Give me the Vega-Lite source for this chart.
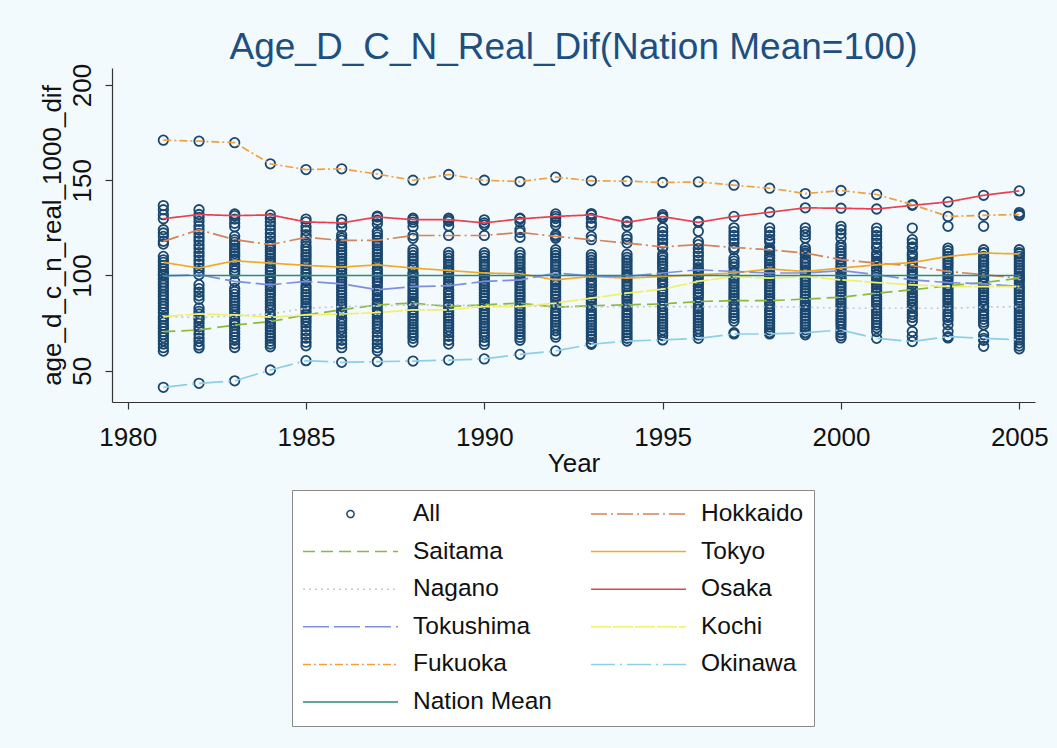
{
 "$schema": "https://vega.github.io/schema/vega-lite/v6.json",
 "width": 923,
 "height": 334,
 "autosize": {"type": "none"},
 "padding": {"left": 112, "top": 68, "right": 22, "bottom": 346},
 "background": "#f3fafd",
 "title": {"text": "Age_D_C_N_Real_Dif(Nation Mean=100)", "fontSize": 37, "font": "Liberation Sans", "fontWeight": "normal", "color": "#1f4e80", "anchor": "middle", "frame": "group", "baseline": "alphabetic", "offset": 10, "dy": 43},
 "config": {
  "view": {"stroke": null, "fill": "#f3fafd"},
  "axis": {"domainColor": "#333", "tickColor": "#333", "domainWidth": 1.2, "tickWidth": 1.2, "tickSize": 7, "labelFont": "Liberation Sans", "labelFontSize": 26, "labelColor": "#111", "titleFont": "Liberation Sans", "titleFontSize": 26, "titleFontWeight": "normal", "titleColor": "#111", "grid": false},
  "legend": {
   "orient": "none", "legendX": 180, "legendY": 422, "columns": 2, "direction": "horizontal",
   "symbolSize": 9025, "symbolStrokeWidth": 1.5,
   "labelFont": "Liberation Sans", "labelFontSize": 24.5, "labelColor": "#111", "labelOffset": 14, "labelLimit": 300,
   "rowPadding": 9.6, "columnPadding": 38, "padding": 10, "clipHeight": 28, "gridAlign": "all",
   "fillColor": "#ffffff", "strokeColor": "#8a8a8a"
  }
 },
 "datasets": {
  "pts": [
   {"series": "All", "year": 1981, "v": [171, 136.7, 134.5, 131.9, 129.8, 124, 122.3, 120.5, 117.9, 116.5, 110, 108.2, 106.9, 105.3, 103.6, 102, 100.6, 99.8, 98.2, 96.5, 95, 93.4, 91.8, 90.1, 88.7, 87.1, 85.4, 83.9, 82.3, 80.6, 78.4, 77.1, 75.4, 73.8, 72.3, 70.5, 69, 67.4, 65.8, 64, 62.1, 60.3, 41.3]},
   {"series": "All", "year": 1982, "v": [170.5, 134.5, 132, 130.5, 128.4, 126, 124, 122.1, 120, 118.1, 116, 114.2, 112, 110.1, 108, 106.1, 103.9, 102.2, 100.4, 95.2, 93.1, 91.2, 89.3, 87.5, 83, 81.2, 79.8, 78, 76.9, 75, 73.1, 71.4, 69.2, 67.1, 65.3, 63.4, 62, 43.4]},
   {"series": "All", "year": 1983, "v": [169.7, 132.3, 131.4, 129.6, 127.4, 125.6, 120.6, 118.8, 117.5, 116, 114.4, 113, 111.5, 110.1, 108.5, 107.7, 105.6, 104, 102.5, 101, 96.9, 93.2, 91.6, 90.1, 88.4, 87, 85.5, 84.1, 82.4, 80.9, 79.3, 78.8, 76.6, 75.1, 74, 72.3, 70.6, 69.1, 67.5, 66, 64.1, 62.2, 44.7]},
   {"series": "All", "year": 1984, "v": [158.6, 131.8, 130, 128.1, 126.2, 124.1, 122, 120.1, 118.2, 116.2, 115, 113.5, 112.1, 110.5, 109, 107.6, 106.5, 104.5, 103, 101.6, 100.1, 98.6, 97.1, 95.1, 94, 92.5, 91.1, 89.6, 88, 86.5, 85.1, 83.5, 82.1, 79.8, 78.1, 77.5, 75.8, 74.5, 73, 71.6, 70, 68.5, 67.1, 65.5, 64, 62.6, 50.4]},
   {"series": "All", "year": 1985, "v": [155.6, 129.6, 128.1, 125.6, 123.5, 121.4, 120, 117.6, 115.5, 114.1, 112.6, 111, 109.6, 108, 106.6, 105.3, 103.5, 102, 100.6, 99, 97.6, 96.9, 94.5, 93.1, 91.5, 90, 88.6, 87.1, 85.5, 84, 82.8, 81.1, 79.3, 78.1, 76.5, 75, 73.1, 71, 69, 67.1, 65, 63.1, 55.3]},
   {"series": "All", "year": 1986, "v": [156, 129.5, 127.6, 125.2, 121.1, 119.6, 118.4, 116.5, 115.1, 113.5, 112, 110.6, 109, 107.5, 106.1, 104.4, 103, 101.5, 100.1, 98.6, 97, 95.6, 94.1, 92.6, 91, 89.6, 88, 86.6, 85.1, 83.7, 82, 80.6, 79.8, 77.6, 76.1, 74.5, 73, 71.6, 70, 68.1, 66, 64.1, 62.1, 54.4]},
   {"series": "All", "year": 1987, "v": [153.2, 131.2, 130.7, 129, 127.1, 123.1, 121.5, 120.1, 118.4, 117, 115.6, 114, 112.5, 111.1, 109.5, 108, 106.5, 105.6, 103.5, 102, 100.6, 99, 97.5, 96.1, 94.5, 92.5, 91.6, 90, 88.5, 87.1, 85.5, 84.6, 82.5, 80.5, 79.6, 78.1, 76.5, 75.1, 73.5, 72, 70.1, 68, 66.1, 64, 62.1, 60.5, 54.8]},
   {"series": "All", "year": 1988, "v": [150, 130.1, 129.3, 128, 125.6, 121, 119.5, 113.6, 112.1, 110.5, 109, 107.6, 106, 104.5, 103.9, 101.5, 100.1, 98.6, 97, 95.6, 94.2, 92.5, 91.1, 89.5, 88, 86.6, 85.5, 84.6, 82, 80.6, 79, 77.5, 76.1, 74.5, 73, 71.6, 70.1, 68.5, 67, 65.1, 55.1]},
   {"series": "All", "year": 1989, "v": [153, 130.1, 129.3, 128.4, 126, 121, 112.1, 110.5, 109.1, 107.6, 106, 104.5, 103, 102.6, 101.5, 100.1, 98.5, 97, 95.6, 94.6, 92.5, 91.1, 89.5, 88, 86.6, 84.6, 83.7, 82, 80.6, 79, 77.6, 76, 74.5, 73.1, 71.5, 70, 68.1, 66, 64, 55.6]},
   {"series": "All", "year": 1990, "v": [150, 129.2, 127.6, 126.5, 121, 112, 110.5, 109.1, 107.5, 106, 104.6, 103, 101.3, 100.1, 98.6, 96.9, 95.5, 94, 92.6, 91, 89.5, 88.1, 86.5, 84.6, 84, 82.6, 81, 79.5, 78, 76.6, 75, 73.5, 72.1, 70.5, 69, 67.5, 65.5, 63.8, 56.2]},
   {"series": "All", "year": 1991, "v": [149.3, 130.1, 129.7, 128, 124.1, 122.6, 120, 112.1, 110.6, 109, 107.5, 106.1, 104.5, 103, 101.5, 100.9, 99, 97.7, 96, 94.6, 93, 91.5, 90, 88.6, 87, 85.5, 84, 82.6, 81, 79.5, 78.1, 76.5, 75, 73.5, 72, 70.5, 69, 67.5, 66, 58.6]},
   {"series": "All", "year": 1992, "v": [151.6, 132.3, 131, 129.9, 128, 126.5, 121.4, 120.5, 119.5, 113.5, 112, 110.5, 109.1, 107.5, 106, 104.6, 103, 101.3, 100, 97.7, 96.6, 95, 93.5, 92, 90.6, 89, 87.5, 85.5, 84.6, 83.4, 81.5, 80, 78.5, 77, 75.5, 74, 72.5, 71, 69, 67.6, 60.4]},
   {"series": "All", "year": 1993, "v": [149.7, 132.5, 131.8, 130, 127.5, 126, 120.5, 118.8, 111, 109.5, 108, 106.6, 105, 103.5, 102, 100.6, 99.5, 99.8, 97.5, 96, 94.5, 93, 91.5, 90, 88.1, 87, 85.5, 84.1, 83.4, 81.5, 80, 78.5, 77, 75.5, 74, 72.5, 71, 69.5, 68, 66.5, 64.5, 63.9]},
   {"series": "All", "year": 1994, "v": [149.5, 128.4, 127.9, 126, 120.5, 119, 117, 111.1, 109.5, 108, 106.5, 105, 103.6, 102, 100.5, 99.5, 98.6, 97, 95.5, 94, 92.5, 90.7, 89.5, 88, 86.5, 84.6, 83.7, 82, 80.5, 79, 77.5, 76, 74.5, 73, 71.5, 70, 68.5, 67, 65.6]},
   {"series": "All", "year": 1995, "v": [148.8, 131.9, 130.9, 130.2, 125, 123, 121, 119, 117, 115, 114.4, 111, 109.5, 108, 106.5, 105, 103.5, 101.3, 100, 99.5, 98, 96.5, 95, 92.8, 91.5, 90, 88.5, 87, 85.1, 84, 83.7, 82, 80.5, 79, 77.5, 76, 74.5, 73, 71.5, 70, 68.5, 66.2]},
   {"series": "All", "year": 1996, "v": [149.1, 128.4, 127.9, 123.2, 117.9, 116.2, 114.1, 112, 110.2, 108.1, 106, 104.1, 103, 102.1, 100.4, 98.6, 96.9, 96, 94.5, 93, 91.5, 90, 88.5, 86.3, 85.5, 83.7, 82.5, 81, 79.5, 78, 76.5, 75, 73.5, 72, 70.5, 68.8, 67]},
   {"series": "All", "year": 1997, "v": [147.4, 131, 125, 123, 121, 119, 117, 114.7, 113.5, 109, 107.5, 106, 104.5, 102.1, 101.3, 99.5, 98.5, 97, 95.5, 94, 92.5, 91, 89.5, 88, 86.8, 85, 83.7, 82, 80.5, 79, 77.5, 76, 70, 69.3]},
   {"series": "All", "year": 1998, "v": [145.8, 133.2, 125, 123, 121, 119, 117.5, 114.5, 113.5, 112.5, 110.5, 109, 107.5, 106, 104.5, 103.4, 101.3, 100, 98.6, 97, 95.5, 94, 92.5, 91, 89.5, 88, 86.8, 85, 83.7, 82, 80.5, 79, 77.5, 76, 74.5, 73, 71.5, 70, 69.3]},
   {"series": "All", "year": 1999, "v": [143, 135.5, 125, 123, 121.4, 119.6, 114.5, 113, 111.8, 111, 109, 107.5, 106, 104.5, 103, 102.1, 101.3, 99.5, 98, 96.5, 95, 93.5, 92, 90.5, 89, 87.6, 86, 84.5, 83.4, 82, 80.5, 79, 77.5, 76, 74.5, 73, 71.5, 70, 68.9]},
   {"series": "All", "year": 2000, "v": [144.6, 135.3, 125.8, 124, 122, 119.6, 116.1, 114.5, 113, 111.5, 110, 108.3, 106.5, 105, 103.9, 102.6, 101.5, 100, 98.5, 97.7, 96, 94.5, 93, 91.5, 90, 88.6, 87, 85.5, 84, 82.8, 81, 79.5, 78, 76.5, 75, 73.5, 71.4, 70, 68.5, 67.2]},
   {"series": "All", "year": 2001, "v": [142.5, 134.9, 124.9, 123, 121, 119, 117, 115, 114.4, 111.8, 110.5, 109, 107.5, 106.5, 105.6, 104, 102.5, 100.4, 99, 97.5, 96.3, 95, 93.5, 92, 90.7, 89, 87.5, 86, 84.5, 82.8, 81.5, 80, 78.5, 77, 75.5, 74, 72.5, 70.6, 67]},
   {"series": "All", "year": 2002, "v": [137.2, 136.8, 124.9, 118.8, 117, 115, 114.4, 111.8, 110.5, 109, 106.8, 105.1, 104, 102.5, 101, 99.5, 97.7, 96.5, 95.1, 93.5, 92.5, 91, 89.5, 88, 86.5, 85, 83.5, 82.8, 81, 79.5, 78, 76, 70.6, 68, 65.3]},
   {"series": "All", "year": 2003, "v": [138.6, 131, 125.8, 114.4, 113, 111.5, 110, 108.5, 107, 105.5, 104, 102.1, 101, 99.5, 98, 96.3, 95, 94.2, 93, 91.5, 90, 88.5, 87, 85.5, 84, 82.8, 81, 79.5, 78, 76.5, 74.1, 70.6, 67.9, 67.2]},
   {"series": "All", "year": 2004, "v": [142.1, 131.6, 125.8, 113.5, 112, 111.8, 110, 108.5, 107, 105.5, 104, 102.5, 100.4, 99, 97.5, 96.3, 95.6, 94.2, 93, 91.5, 90, 88.5, 87, 85.5, 84, 83.4, 81.5, 80, 78.5, 77, 75.5, 74.1, 68.9, 67, 66, 62.8]},
   {"series": "All", "year": 2005, "v": [144.4, 133, 131.5, 132, 113.5, 112, 111.3, 110, 108.5, 107, 105.5, 104, 102.5, 101, 99.5, 98.6, 97.5, 96, 94.2, 93, 91.5, 90, 88.5, 87, 85.5, 83.7, 82.5, 81, 79.5, 78, 76.5, 75, 73.5, 72, 70.5, 69, 67.5, 66.2, 64.5, 63, 61.5]}
  ],
  "lines": [
   {"series": "Hokkaido", "year": [1981,1982,1983,1984,1985,1986,1987,1988,1989,1990,1991,1992,1993,1994,1995,1996,1997,1998,1999,2000,2001,2002,2003,2004,2005], "v": [117.9, 124, 118.8, 116.2, 120, 118.4, 118.4, 121, 121, 121, 122.6, 120.5, 118.8, 117, 115, 116.2, 114.7, 113.5, 111.8, 108.3, 106.5, 105.1, 102.1, 100.4, 98.6]},
   {"series": "Saitama", "year": [1981,1982,1983,1984,1985,1986,1987,1988,1989,1990,1991,1992,1993,1994,1995,1996,1997,1998,1999,2000,2001,2002,2003,2004,2005], "v": [70.5, 71.4, 74, 75.8, 79.3, 82, 84.6, 85.5, 83.7, 84.6, 85.5, 83.4, 84.1, 84.6, 85.1, 86.3, 86.8, 86.8, 87.6, 88.6, 90.7, 92.5, 94.6, 96.3, 98.6]},
   {"series": "Tokyo", "year": [1981,1982,1983,1984,1985,1986,1987,1988,1989,1990,1991,1992,1993,1994,1995,1996,1997,1998,1999,2000,2001,2002,2003,2004,2005], "v": [106.9, 103.9, 107.7, 106.5, 105.3, 104.4, 105.6, 103.9, 102.6, 101.3, 100.9, 97.7, 99.5, 98.6, 99.5, 100.4, 101.3, 103.4, 102.1, 103.9, 105.6, 106.8, 110, 111.8, 111.3]},
   {"series": "Nagano", "year": [1981,1982,1983,1984,1985,1986,1987,1988,1989,1990,1991,1992,1993,1994,1995,1996,1997,1998,1999,2000,2001,2002,2003,2004,2005], "v": [78.4, 78, 78.8, 79.8, 82.8, 83.7, 84.1, 84.6, 84.6, 84, 84, 83.7, 83.4, 83.7, 83.7, 83.7, 83.7, 83.7, 83.4, 82.8, 82.8, 82.8, 82.8, 83.4, 83.7]},
   {"series": "Osaka", "year": [1981,1982,1983,1984,1985,1986,1987,1988,1989,1990,1991,1992,1993,1994,1995,1996,1997,1998,1999,2000,2001,2002,2003,2004,2005], "v": [129.8, 132, 131.4, 131.8, 128.1, 127.6, 130.7, 129.3, 129.3, 127.6, 129.7, 131, 131.8, 127.9, 130.9, 127.9, 131, 133.2, 135.5, 135.3, 134.9, 136.8, 138.6, 142.1, 144.4]},
   {"series": "Tokushima", "year": [1981,1982,1983,1984,1985,1986,1987,1988,1989,1990,1991,1992,1993,1994,1995,1996,1997,1998,1999,2000,2001,2002,2003,2004,2005], "v": [99.8, 100.4, 96.9, 95.1, 96.9, 95.6, 92.5, 94.2, 94.6, 96.9, 97.7, 101.3, 99.8, 99.5, 101.3, 103, 102.1, 101.3, 101.3, 102.6, 100.4, 97.7, 96.3, 95.6, 94.2]},
   {"series": "Kochi", "year": [1981,1982,1983,1984,1985,1986,1987,1988,1989,1990,1991,1992,1993,1994,1995,1996,1997,1998,1999,2000,2001,2002,2003,2004,2005], "v": [78.4, 79.8, 79.3, 78.1, 79.3, 79.8, 80.5, 82, 82, 83.7, 83.7, 85.5, 88.1, 90.7, 92.8, 96.9, 99.5, 98.6, 99.5, 97.7, 96.3, 95.1, 94.2, 94.2, 94.2]},
   {"series": "Fukuoka", "year": [1981,1982,1983,1984,1985,1986,1987,1988,1989,1990,1991,1992,1993,1994,1995,1996,1997,1998,1999,2000,2001,2002,2003,2004,2005], "v": [171, 170.5, 169.7, 158.6, 155.6, 156, 153.2, 150, 153, 150, 149.3, 151.6, 149.7, 149.5, 148.8, 149.1, 147.4, 145.8, 143, 144.6, 142.5, 137.2, 131, 131.6, 132]},
   {"series": "Okinawa", "year": [1981,1982,1983,1984,1985,1986,1987,1988,1989,1990,1991,1992,1993,1994,1995,1996,1997,1998,1999,2000,2001,2002,2003,2004,2005], "v": [41.3, 43.4, 44.7, 50.4, 55.3, 54.4, 54.8, 55.1, 55.6, 56.2, 58.6, 60.4, 63.9, 65.6, 66.2, 67, 69.3, 69.3, 70, 71.4, 67, 65.3, 67.9, 67, 66.2]},
   {"series": "Nation Mean", "year": [1981,1982,1983,1984,1985,1986,1987,1988,1989,1990,1991,1992,1993,1994,1995,1996,1997,1998,1999,2000,2001,2002,2003,2004,2005], "v": [100,100,100,100,100,100,100,100,100,100,100,100,100,100,100,100,100,100,100,100,100,100,100,100,100]}
  ]
 },
 "layer": [
  {
   "data": {"name": "pts"},
   "transform": [{"flatten": ["v"]}],
   "mark": {"type": "point", "filled": false, "size": 90, "strokeWidth": 1.8, "opacity": 1},
   "encoding": {
    "x": {"field": "year", "type": "quantitative", "scale": {"domain": [1979.56, 2005.44], "nice": false, "zero": false}, "axis": {"values": [1980, 1985, 1990, 1995, 2000, 2005], "format": "d", "title": "Year", "labelPadding": 15, "titlePadding": 0}},
    "y": {"field": "v", "type": "quantitative", "scale": {"domain": [33.6, 208.9], "nice": false, "zero": false}, "axis": {"values": [50, 100, 150, 200], "title": "age_d_c_n_real_1000_dif", "labelAngle": -90, "labelAlign": "center", "labelBaseline": "bottom", "labelPadding": 10, "titlePadding": 4}},
    "color": {
     "field": "series", "type": "nominal",
     "scale": {"domain": ["All", "Hokkaido", "Saitama", "Tokyo", "Nagano", "Osaka", "Tokushima", "Kochi", "Fukuoka", "Okinawa", "Nation Mean"], "range": ["#1a476f", "#d4845a", "#8cb83c", "#f0aa28", "#c4cad2", "#e8404f", "#7f8fe0", "#f0f06e", "#f0a040", "#8ccfe6", "#2a8a78"]},
     "legend": {
      "title": null,
      "symbolType": {"expr": "datum.value === 'All' ? 'M-0.075,0A0.075,0.075,0,1,0,0.075,0A0.075,0.075,0,1,0,-0.075,0Z' : 'stroke'"},
      "symbolDash": {"expr": "datum.value==='Hokkaido'?[16,4,2,4]:datum.value==='Saitama'?[12,6]:datum.value==='Nagano'?[2,4]:datum.value==='Tokushima'?[26,5]:datum.value==='Kochi'?[20,2]:datum.value==='Fukuoka'?[8,3,2,3]:datum.value==='Okinawa'?[24,5,2,5]:[1,0]"}
     }
    }
   }
  },
  {
   "data": {"name": "lines"},
   "transform": [{"flatten": ["year", "v"]}],
   "mark": {"type": "line", "strokeWidth": 1.7},
   "encoding": {
    "x": {"field": "year", "type": "quantitative"},
    "y": {"field": "v", "type": "quantitative"},
    "color": {"field": "series", "type": "nominal",
     "legend": {
      "title": null,
      "symbolType": {"expr": "datum.value === 'All' ? 'M-0.075,0A0.075,0.075,0,1,0,0.075,0A0.075,0.075,0,1,0,-0.075,0Z' : 'stroke'"},
      "symbolDash": {"expr": "datum.value==='Hokkaido'?[16,4,2,4]:datum.value==='Saitama'?[12,6]:datum.value==='Nagano'?[2,4]:datum.value==='Tokushima'?[26,5]:datum.value==='Kochi'?[20,2]:datum.value==='Fukuoka'?[8,3,2,3]:datum.value==='Okinawa'?[24,5,2,5]:[1,0]"}
     }},
    "strokeDash": {"field": "series", "type": "nominal", "legend": null, "scale": {"domain": ["Hokkaido", "Saitama", "Tokyo", "Nagano", "Osaka", "Tokushima", "Kochi", "Fukuoka", "Okinawa", "Nation Mean"], "range": [[16,4,2,4],[12,6],[1,0],[2,4],[1,0],[26,5],[20,2],[8,3,2,3],[24,5,2,5],[1,0]]}}
   }
  }
 ]
}
